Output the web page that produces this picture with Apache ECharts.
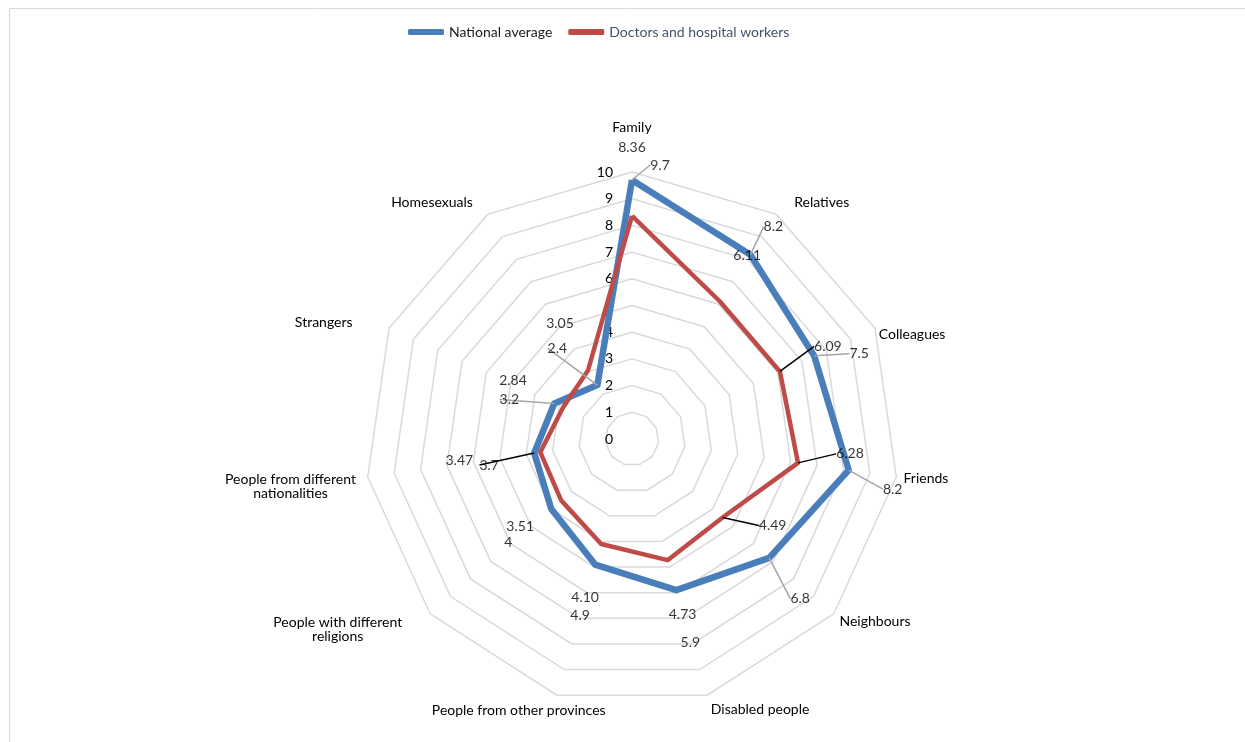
<!DOCTYPE html>
<html>
<head>
<meta charset="utf-8">
<title>Trust by group</title>
<script src="https://cdn.jsdelivr.net/npm/echarts@6/dist/echarts.min.js"></script>
<style>
  html, body { margin: 0; padding: 0; background: #ffffff; }
  #chart { width: 1245px; height: 742px; }
</style>
</head>
<body>
<div id="chart"></div>
<script>
// categories, clockwise from the top
const groups = ['Family', 'Relatives', 'Colleagues', 'Friends', 'Neighbours', 'Disabled people',
  'People from other provinces', 'People with different\nreligions', 'People from different\nnationalities',
  'Strangers', 'Homesexuals'];
const nationalAverage = [9.7, 8.2, 7.5, 8.2, 6.8, 5.9, 4.9, 4, 3.7, 3.2, 2.4];
const doctorsWorkers = [8.36, 6.11, 6.09, 6.28, 4.49, 4.73, 4.10, 3.51, 3.47, 2.84, 3.05];
const seriesNames = ['National average', 'Doctors and hospital workers'];
const scaleMax = 10;
const scaleSteps = 10;

const font = 'Lato';
const fontSize = 14;
const cx = 632, cy = 439, R = 267;

// name placement: [nameGap, shiftX, shiftY]
const nameLayout = [[45, 0, 0], [34, 27, 17], [31, 9, 19], [30, 0, -3], [36, 14, -16], [28, 45, -13],
  [25, -31, -9], [80, -32, -37], [78, 0, -2], [62, -9, 20], [40, -34, 22]];
// data label placement: [dx, dy, leader line, leader colour]
const blueLabelPos = [[28, -15, true], [23, -28, true], [45, -2, true], [44, 19, true], [31, 41, true],
  [14, 52, false], [-15, 51, false], [-43, 34, false], [-45, 12, true, '#000000'], [-45, -4, true], [-40, -37, true]];
const redLabelPos = [[0, -68, false], [27, -46, false], [48, -25, true], [52, -9, true], [50, 8, true],
  [15, 54, false], [-16, 53, false], [-41, 26, false], [-81, 8, false], [-50, -27, false], [-28, -47, false]];

// echarts radar goes counter-clockwise, so feed it the categories reversed after the first
const order = [0].concat(groups.map((g, i) => i).slice(1).reverse());

const rich = {};
nameLayout.forEach(function (l, i) {
  const sx = l[1], sy = l[2];
  const left = Math.max(2 * sx, 0), right = Math.max(-2 * sx, 0);
  const top = Math.max(2 * sy, 0), bottom = Math.max(-2 * sy, 0);
  rich['t' + i] = { align: 'center', padding: [top, right, 0, left] };
  rich['b' + i] = { align: 'center', padding: [0, right, bottom, left] };
  rich['s' + i] = { align: 'center', padding: [top, right, bottom, left] };
});

function nameFormatter(name) {
  const i = groups.indexOf(name);
  const lines = name.split('\n');
  if (lines.length === 1) return '{s' + i + '|' + name + '}';
  return '{t' + i + '|' + lines[0] + '}\n{b' + i + '|' + lines[1] + '}';
}

function labelSeries(values, texts, pos, leaderColor) {
  return {
    type: 'scatter',
    coordinateSystem: 'polar',
    symbolSize: 0,
    silent: true,
    z: 5,
    data: values.map(function (v, i) {
      const line = { show: pos[i][2] };
      if (pos[i][3]) line.lineStyle = { color: pos[i][3] };
      return { value: [v, i * 360 / groups.length], labelLine: line };
    }),
    label: {
      show: true, position: 'inside', color: '#000000', fontSize: fontSize, fontFamily: font,
      formatter: function (p) { return texts[p.dataIndex]; }
    },
    labelLine: { show: false, lineStyle: { color: leaderColor, width: 1.5 } },
    labelLayout: function (p) {
      return { dx: pos[p.dataIndex][0], dy: pos[p.dataIndex][1] };
    }
  };
}

const chart = echarts.init(document.getElementById('chart'));
const option = {
  backgroundColor: '#ffffff',
  animation: false,
  textStyle: { fontFamily: font },
  graphic: [{
    type: 'rect', silent: true,
    shape: { x: 9.5, y: 8.5, width: 1240, height: 740 },
    style: { fill: 'none', stroke: '#d9d9d9', lineWidth: 1 }
  }],
  legend: {
    left: 403, top: 20, itemWidth: 36, itemHeight: 6, itemGap: 16,
    icon: 'roundRect',
    textStyle: { fontSize: fontSize, fontFamily: font, color: '#000000' },
    data: [
      { name: seriesNames[0], textStyle: { color: '#1a1a1a' } },
      { name: seriesNames[1], textStyle: { color: '#44546a' } }
    ]
  },
  radar: {
    center: [cx, cy],
    radius: R,
    shape: 'polygon',
    splitNumber: scaleSteps,
    indicator: order.map(function (i) {
      const ind = { name: groups[i], min: 0, max: scaleMax, nameGap: nameLayout[i][0] };
      if (i === 0) ind.axisLabel = { show: true };
      return ind;
    }),
    axisName: {
      color: '#000000', fontSize: fontSize, fontFamily: font,
      align: 'center', verticalAlign: 'middle',
      formatter: nameFormatter, rich: rich
    },
    axisLine: { show: false },
    axisTick: { show: false },
    axisLabel: { show: false, color: '#000000', fontSize: fontSize, fontFamily: font, margin: 19 },
    splitLine: { lineStyle: { color: '#d9d9d9', width: 1.5 } },
    splitArea: { show: false }
  },
  polar: { center: [cx, cy], radius: R },
  angleAxis: { type: 'value', min: 0, max: 360, startAngle: 90, clockwise: true, show: false },
  radiusAxis: { type: 'value', min: 0, max: scaleMax, show: false },
  series: [
    {
      type: 'radar',
      symbol: 'none',
      z: 2,
      data: [
        { name: seriesNames[0], value: order.map(i => nationalAverage[i]),
          lineStyle: { color: '#4a7ebb', width: 6.5 }, itemStyle: { color: '#4a7ebb' } },
        { name: seriesNames[1], value: order.map(i => doctorsWorkers[i]),
          lineStyle: { color: '#be4b48', width: 4.5 }, itemStyle: { color: '#be4b48' } }
      ]
    },
    labelSeries(nationalAverage, nationalAverage.map(String), blueLabelPos, '#a6a6a6'),
    labelSeries(doctorsWorkers, doctorsWorkers.map(v => v.toFixed(2)), redLabelPos, '#000000')
  ]
};
chart.setOption(option);
window.addEventListener('resize', function () { chart.resize(); });
</script>
</body>
</html>
